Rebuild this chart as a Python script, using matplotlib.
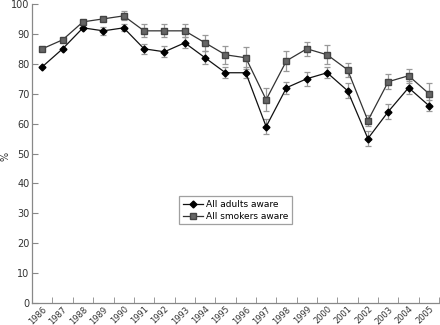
import numpy as np
import matplotlib.pyplot as plt
from matplotlib.lines import Line2D
from matplotlib.transforms import ScaledTranslation

years = list(range(1986, 2006))

adults = [79, 85, 92, 91, 92, 85, 84, 87, 82, 77,
          77, 59, 72, 75, 77, 71, 55, 64, 72, 66]
adults_err = [0, 0, 0, 1.4, 1.2, 1.7, 1.8, 1.9, 2.1, 1.8,
              1.9, 2.5, 2.0, 2.3, 1.8, 2.5, 2.6, 2.6, 2.2, 1.9]

smokers = [85, 88, 94, 95, 96, 91, 91, 91, 87, 83,
           82, 68, 81, 85, 83, 78, 61, 74, 76, 70]
smokers_err = [0, 0, 0, 0, 1.5, 2.2, 2.2, 2.2, 2.7, 3.0,
               3.7, 3.9, 3.3, 2.4, 3.2, 2.4, 1.9, 2.5, 2.3, 3.7]

plt.rcParams["font.family"] = ["DejaVu Sans"]

fig = plt.figure(figsize=(4.4, 3.25), dpi=100)
ax = fig.add_axes([0.073, 0.067, 0.925, 0.921])

x = np.arange(len(years))
ax.errorbar(x, adults, yerr=adults_err, color="#111111", ecolor="#999999",
            elinewidth=0.9, capsize=2.5, capthick=0.9, lw=0.9,
            marker="D", markersize=3.5, mfc="black", mec="black", zorder=3)
ax.errorbar(x, smokers, yerr=smokers_err, color="#333333", ecolor="#999999",
            elinewidth=0.9, capsize=2.5, capthick=0.9, lw=0.9,
            marker="s", markersize=4, mfc="#666666", mec="#444444", zorder=3)

ax.set_xlim(-0.5, len(years) - 0.5)
ax.set_ylim(0, 100)
ax.set_yticks(range(0, 101, 10))
ax.set_xticks(x)
ax.set_xticklabels([str(y) for y in years], rotation=45, ha="right",
                   va="top", rotation_mode="anchor", fontsize=6,
                   color="#333333")
shift = ScaledTranslation(3 / 100, 0, fig.dpi_scale_trans)
for lbl in ax.get_xticklabels():
    lbl.set_transform(lbl.get_transform() + shift)
ax.set_xticks(np.arange(0.5, len(years), 1), minor=True)
ax.tick_params(axis="x", which="major", length=0, pad=1)
ax.tick_params(axis="x", which="minor", direction="in", length=4.5,
               color="#888888")
ax.tick_params(axis="y", direction="in", length=4.5, color="#888888",
               labelsize=7, labelcolor="#333333", pad=2)

for side in ["top", "right"]:
    ax.spines[side].set_visible(False)
for side in ["left", "bottom"]:
    ax.spines[side].set_color("#888888")
    ax.spines[side].set_linewidth(0.9)

ax.set_ylabel("%", fontsize=7, color="#333333")
ax.yaxis.set_label_coords(-0.052, 0.49)

handles = [
    Line2D([], [], color="#111111", lw=0.9, marker="D", markersize=3.5,
           mfc="black", mec="black"),
    Line2D([], [], color="#333333", lw=0.9, marker="s", markersize=4,
           mfc="#666666", mec="#444444"),
]
leg = ax.legend(handles, ["All adults aware", "All smokers aware"],
                loc="center", bbox_to_anchor=(0.5, 0.31), fontsize=6.5,
                frameon=True, fancybox=False, handlelength=2.2,
                borderpad=0.4, labelspacing=0.3, handletextpad=0.4)
leg.get_frame().set_edgecolor("#888888")
leg.get_frame().set_linewidth(0.9)

fig.savefig("out.png", dpi=100)
